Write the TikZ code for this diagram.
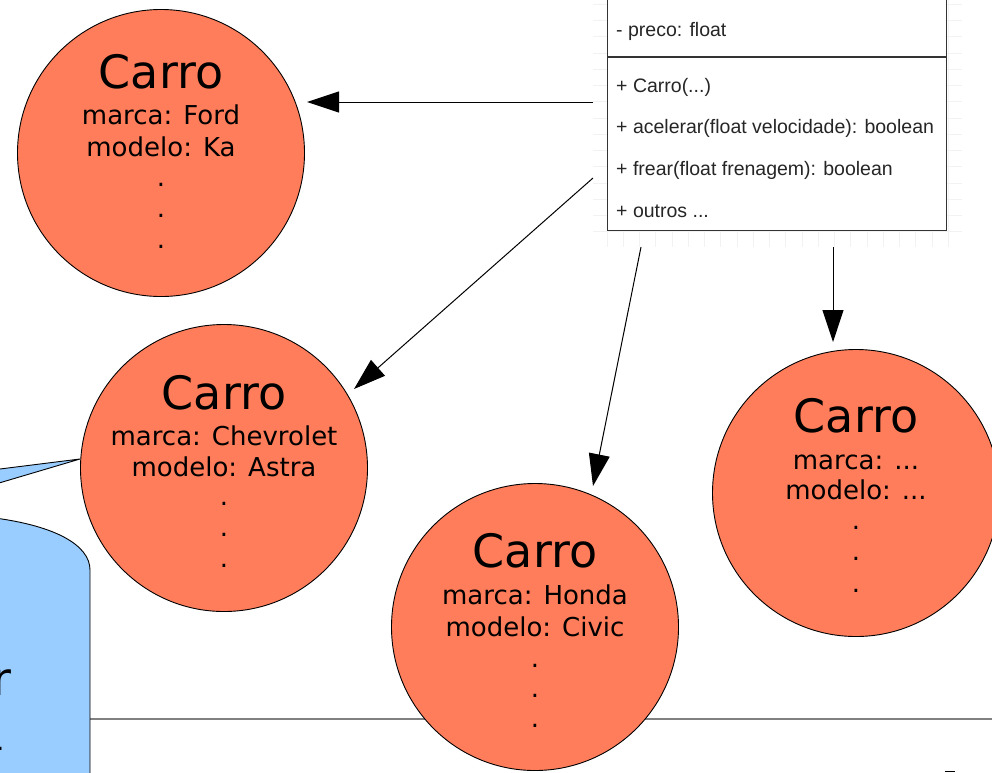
\documentclass[tikz,border=0pt]{standalone}
\usepackage{fontspec}
\setmainfont{DejaVu Sans}
\newfontfamily\umlfont{Liberation Sans}
\usetikzlibrary{arrows.meta}
\definecolor{coral}{HTML}{FF7D5A}
\definecolor{callblue}{HTML}{99CCFF}
\newcommand\bigtxt{\fontsize{46}{54}\selectfont}
\newcommand\smalltxt{\fontsize{26}{31}\selectfont}
\newcommand\umltxt{\umlfont\fontsize{19.5}{23}\selectfont}
\begin{document}
\begin{tikzpicture}[x=1pt,y=-1pt,
  obj/.style={circle, draw=black, line width=0.9pt, fill=coral, minimum size=287pt, inner sep=0pt},
  title/.style={font=\bigtxt, anchor=base, inner sep=0pt},
  attr/.style={font=\smalltxt, anchor=base, inner sep=0pt},
  member/.style={font=\umltxt, anchor=base west, inner sep=0pt, text=black!85},
  arr/.style={-{Triangle[length=32pt,width=21pt]}, line width=1pt},
  gridline/.style={black!5, line width=0.8pt},
  uml/.style={draw=black!80, line width=1.4pt}
]
\useasboundingbox (0,0) rectangle (992,772);
\clip (0,0) rectangle (992,772);

% faint grid behind the class box
\foreach \k in {-0,...,21} \draw[gridline] ({607+16.25*\k},0) -- ({607+16.25*\k},247);
\foreach \k in {-3,...,11} \draw[gridline] (593,{53+16.25*\k}) -- (962,{53+16.25*\k});

% gray horizontal rule
\coordinate (r0) at (90,719);
\coordinate (r1) at (995,719);
\draw[gray, line width=1.6pt] (r0) -- (r1);

% blue shape with pointer
\draw[fill=callblue, line width=0.9pt] (-5,518) .. controls (55,526) and (90,545) .. (90,570) -- (90,780) -- (-5,780) -- cycle;
\draw[fill=callblue, line width=0.9pt] (-5,469.6) -- (80,459) -- (-5,484.2);
\node[font=\bigtxt, anchor=base west, inner sep=0pt] (br) at (-8,695) {r};
\node[font=\smalltxt, anchor=base west, inner sep=0pt] (bd) at (-4,750) {.};

% objects
\node[obj] (c1) at (161,153) {};
\node[title] (c1t) at (161,88) {Carro};
\node[attr] (c1a) at (161,124) {marca: Ford};
\node[attr] (c1b) at (161,156) {modelo: Ka};
\node[attr] (c1d1) at (161,186) {.};
\node[attr] (c1d2) at (161,217) {.};
\node[attr] (c1d3) at (161,248) {.};

\node[obj] (c2) at (224,468) {};
\node[title] (c2t) at (224,409) {Carro};
\node[attr] (c2a) at (224,445) {marca: Chevrolet};
\node[attr] (c2b) at (224,476) {modelo: Astra};
\node[attr] (c2d1) at (224,505) {.};
\node[attr] (c2d2) at (224,536) {.};
\node[attr] (c2d3) at (224,567) {.};

\node[obj] (c3) at (535,627) {};
\node[title] (c3t) at (535,567) {Carro};
\node[attr] (c3a) at (535,604) {marca: Honda};
\node[attr] (c3b) at (535,636) {modelo: Civic};
\node[attr] (c3d1) at (535,667) {.};
\node[attr] (c3d2) at (535,697) {.};
\node[attr] (c3d3) at (535,727) {.};

\node[obj] (c4) at (856,493) {};
\node[title] (c4t) at (856,432) {Carro};
\node[attr] (c4a) at (856,469) {marca: ...};
\node[attr] (c4b) at (856,499) {modelo: ...};
\node[attr] (c4d1) at (856,529) {.};
\node[attr] (c4d2) at (856,560) {.};
\node[attr] (c4d3) at (856,592) {.};

% class box
\node[uml, fill=white, minimum width=339pt, minimum height=251pt, anchor=north west, inner sep=0pt] (cls) at (607,-21) {};
\draw[uml] (607,57) -- (946,57);
\node[member] (m0) at (616,36) {- preco: float};
\node[member] (m1) at (616,92) {+ Carro(...)};
\node[member] (m2) at (616,133) {+ acelerar(float velocidade): boolean};
\node[member] (m3) at (616,175) {+ frear(float frenagem): boolean};
\node[member] (m4) at (616,217) {+ outros ...};

% arrows
\coordinate (s1) at (593,102);  \coordinate (t1) at (307,102);
\coordinate (s2) at (593,178);  \coordinate (t2) at (354,389);
\coordinate (s3) at (641,247);  \coordinate (t3) at (593,486);
\coordinate (s4) at (833,247);  \coordinate (t4) at (833,342);
\draw[arr] (s1) -- (t1);
\draw[arr] (s2) -- (t2);
\draw[arr] (s3) -- (t3);
\draw[arr] (s4) -- (t4);

% small cut-off mark at the bottom right
\coordinate (k0) at (945,771.5);
\coordinate (k1) at (955,771.5);
\draw[line width=1.5pt] (k0) -- (k1);
\end{tikzpicture}
\end{document}
